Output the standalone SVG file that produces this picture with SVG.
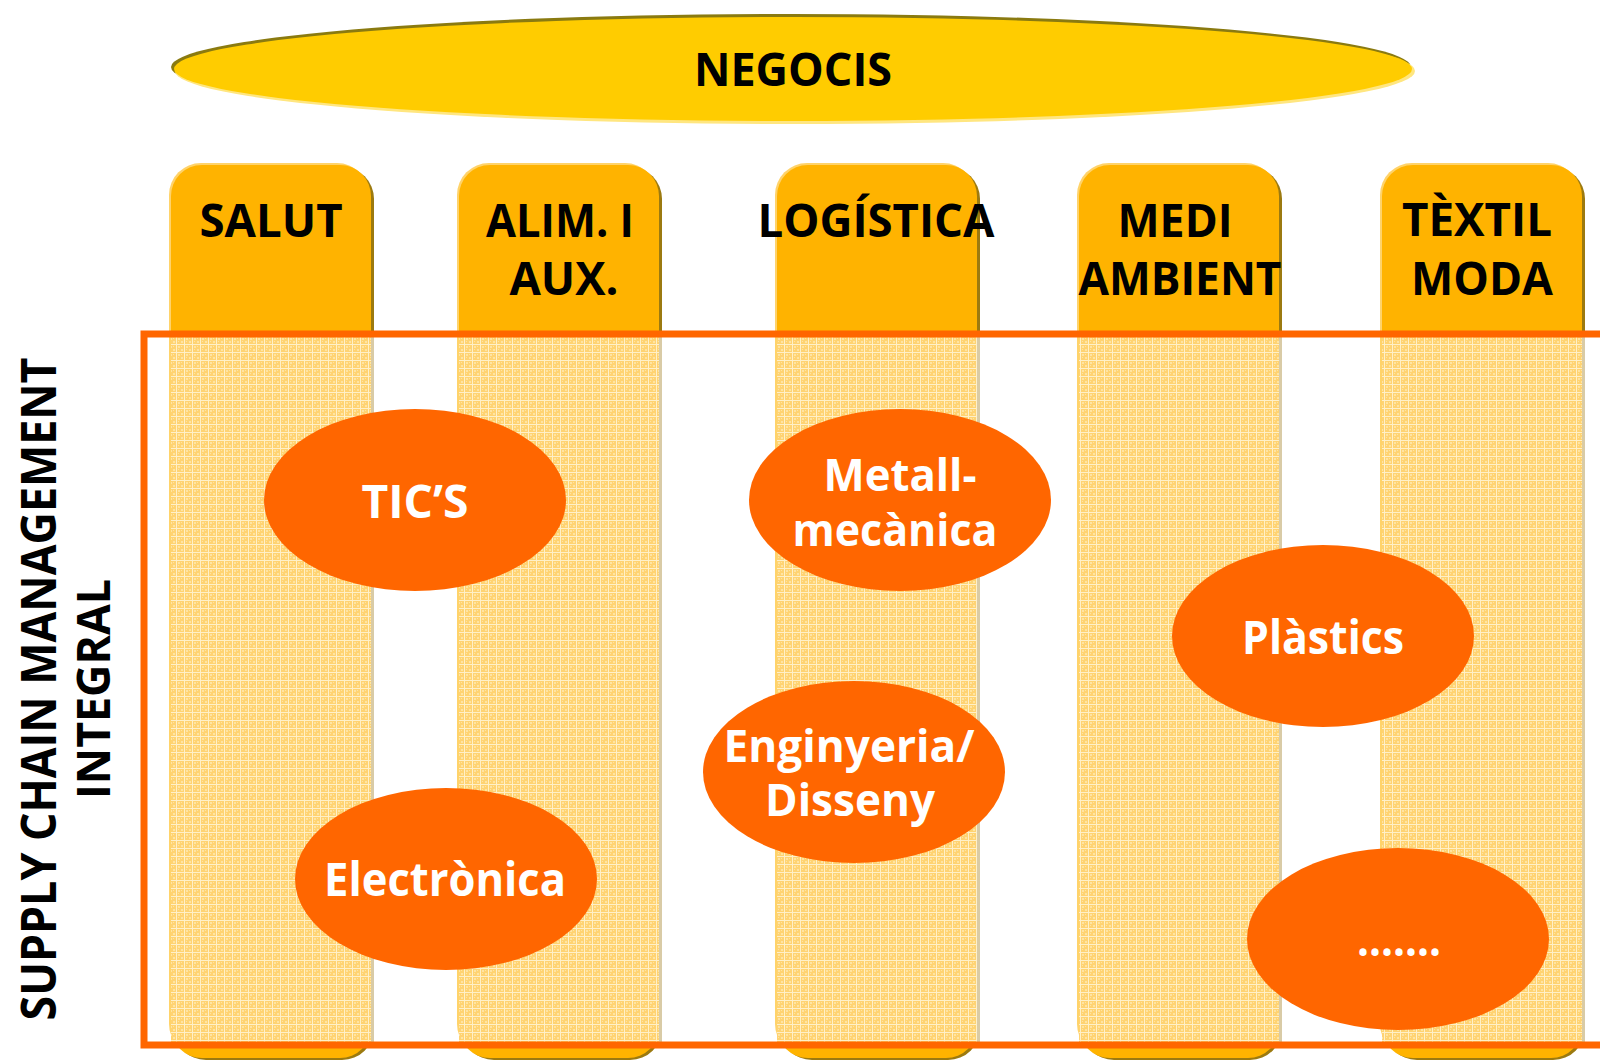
<svg xmlns="http://www.w3.org/2000/svg" width="1600" height="1060" viewBox="0 0 1600 1060">
<style>
.lbl{font-family:"Open Sans","Liberation Sans",sans-serif;font-weight:700;fill:#000;text-anchor:middle}
.wl{font-family:"Open Sans","Liberation Sans",sans-serif;font-weight:700;fill:#fff;text-anchor:middle;font-size:46px}
.wl2{font-family:"Open Sans","Liberation Sans",sans-serif;font-weight:700;fill:#fff;text-anchor:middle;font-size:44px}
.col{fill:#FFB300}
.colhi{fill:#FFD36A}
.colsh{fill:#9C7A10}
.pat{fill:url(#chk)}
.patsh{fill:#D9CBA6}
.bub{fill:#FF6600}
</style>
<defs>
<pattern id="chk" width="8" height="8" patternUnits="userSpaceOnUse">
<rect width="8" height="8" fill="#FFF0C8"/>
<rect x="1" y="1" width="7" height="7" fill="#FFD372"/>
<rect x="2" y="2" width="2" height="2" fill="#FFE4A2"/>
<rect x="5" y="5" width="2" height="2" fill="#FFE4A2"/>
<rect x="5" y="2" width="1" height="1" fill="#FFE4A2"/>
<rect x="2" y="5" width="1" height="1" fill="#FFE4A2"/>
</pattern>
</defs>
<rect width="1600" height="1060" fill="#fff"/>

<g id="negocis">
<ellipse cx="791" cy="67" rx="620" ry="53" fill="#8A7A10"/>
<ellipse cx="795" cy="71" rx="620" ry="53" fill="#FFE680"/>
<ellipse cx="793" cy="69" rx="619" ry="52" fill="#FFCC00"/>
<text class="lbl" x="793" y="86" font-size="47" textLength="198" lengthAdjust="spacingAndGlyphs">NEGOCIS</text>
</g>

<g id="col-salut">
<rect class="colsh" x="174" y="167" width="200" height="893" rx="32"/>
<rect class="colhi" x="169" y="163" width="200" height="893" rx="32"/>
<rect class="col" x="171" y="165" width="200" height="893" rx="31"/>
<rect class="patsh" x="171" y="337" width="203" height="705"/>
<rect class="pat" x="171" y="337" width="200" height="705"/>
<text class="lbl" x="271" y="237" font-size="46" textLength="143" lengthAdjust="spacingAndGlyphs">SALUT</text>
</g>

<g id="col-alim">
<rect class="colsh" x="462" y="167" width="200" height="893" rx="32"/>
<rect class="colhi" x="457" y="163" width="200" height="893" rx="32"/>
<rect class="col" x="459" y="165" width="200" height="893" rx="31"/>
<rect class="patsh" x="459" y="337" width="203" height="705"/>
<rect class="pat" x="459" y="337" width="200" height="705"/>
<text class="lbl" x="560" y="237" font-size="46" textLength="148" lengthAdjust="spacingAndGlyphs">ALIM. I</text>
<text class="lbl" x="564" y="295" font-size="46" textLength="109" lengthAdjust="spacingAndGlyphs">AUX.</text>
</g>

<g id="col-logistica">
<rect class="colsh" x="780" y="167" width="200" height="893" rx="32"/>
<rect class="colhi" x="775" y="163" width="200" height="893" rx="32"/>
<rect class="col" x="777" y="165" width="200" height="893" rx="31"/>
<rect class="patsh" x="777" y="337" width="203" height="705"/>
<rect class="pat" x="777" y="337" width="200" height="705"/>
<text class="lbl" x="876" y="237" font-size="46" textLength="237" lengthAdjust="spacingAndGlyphs">LOGÍSTICA</text>
</g>

<g id="col-medi">
<rect class="colsh" x="1082" y="167" width="200" height="893" rx="32"/>
<rect class="colhi" x="1077" y="163" width="200" height="893" rx="32"/>
<rect class="col" x="1079" y="165" width="200" height="893" rx="31"/>
<rect class="patsh" x="1079" y="337" width="203" height="705"/>
<rect class="pat" x="1079" y="337" width="200" height="705"/>
<text class="lbl" x="1175" y="237" font-size="46" textLength="115" lengthAdjust="spacingAndGlyphs">MEDI</text>
<text class="lbl" x="1180" y="295" font-size="46" textLength="203" lengthAdjust="spacingAndGlyphs">AMBIENT</text>
</g>

<g id="col-textil">
<rect class="colsh" x="1385" y="167" width="200" height="893" rx="32"/>
<rect class="colhi" x="1380" y="163" width="200" height="893" rx="32"/>
<rect class="col" x="1382" y="165" width="200" height="893" rx="31"/>
<rect class="patsh" x="1382" y="337" width="203" height="705"/>
<rect class="pat" x="1382" y="337" width="200" height="705"/>
<text class="lbl" x="1477" y="236" font-size="46" textLength="150" lengthAdjust="spacingAndGlyphs">TÈXTIL</text>
<text class="lbl" x="1482" y="295" font-size="46" textLength="142" lengthAdjust="spacingAndGlyphs">MODA</text>
</g>

<g id="frame">
<rect x="144" y="334" width="1500" height="711" fill="none" stroke="#FF6600" stroke-width="7"/>
</g>

<g id="scm-label">
<text class="lbl" transform="translate(56,689) rotate(-90)" font-size="48" textLength="663" lengthAdjust="spacingAndGlyphs">SUPPLY CHAIN MANAGEMENT</text>
<text class="lbl" transform="translate(110,689) rotate(-90)" font-size="46" textLength="220" lengthAdjust="spacingAndGlyphs">INTEGRAL</text>
</g>

<g id="tics">
<ellipse class="bub" cx="415" cy="500" rx="151" ry="91"/>
<text class="wl" x="415" y="518" textLength="107" lengthAdjust="spacingAndGlyphs">TIC’S</text>
</g>

<g id="metall">
<ellipse class="bub" cx="900" cy="500" rx="151" ry="91"/>
<text class="wl2" x="900" y="491" textLength="153" lengthAdjust="spacingAndGlyphs">Metall-</text>
<text class="wl2" x="895" y="546" textLength="205" lengthAdjust="spacingAndGlyphs">mecànica</text>
</g>

<g id="plastics">
<ellipse class="bub" cx="1323" cy="636" rx="151" ry="91"/>
<text class="wl" x="1323" y="654" textLength="162" lengthAdjust="spacingAndGlyphs">Plàstics</text>
</g>

<g id="enginyeria">
<ellipse class="bub" cx="854" cy="772" rx="151" ry="91"/>
<text class="wl2" x="849" y="762" textLength="251" lengthAdjust="spacingAndGlyphs">Enginyeria/</text>
<text class="wl2" x="850" y="816" textLength="170" lengthAdjust="spacingAndGlyphs">Disseny</text>
</g>

<g id="electronica">
<ellipse class="bub" cx="446" cy="879" rx="151" ry="91"/>
<text class="wl" x="445" y="896" textLength="242" lengthAdjust="spacingAndGlyphs">Electrònica</text>
</g>

<g id="altres">
<ellipse class="bub" cx="1398" cy="939" rx="151" ry="91"/>
<text class="wl" x="1399" y="956" textLength="84" lengthAdjust="spacingAndGlyphs">.......</text>
</g>

<g id="connectors"/>
</svg>
